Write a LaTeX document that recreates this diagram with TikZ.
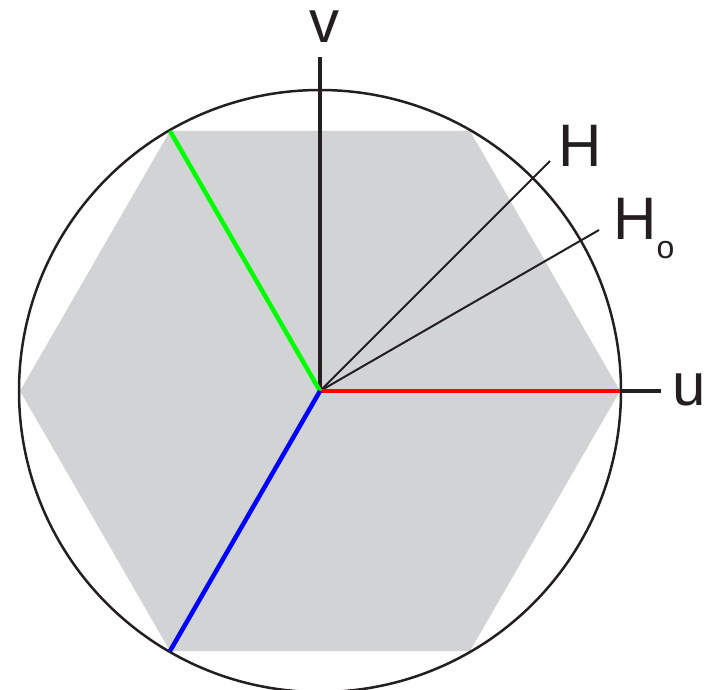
\documentclass[tikz,border=0pt]{standalone}
\usepackage{fontspec}
\setmainfont{Liberation Sans}
\definecolor{hexgray}{RGB}{209,211,212}
\definecolor{ink}{RGB}{35,31,32}
\begin{document}
\begin{tikzpicture}[x=1pt,y=-1pt,
  lab/.style={inner sep=0pt, anchor=base, font=\fontsize{60}{60}\selectfont, text=ink},
  axisline/.style={draw=ink, line width=4.5pt},
  thinline/.style={draw=ink, line width=2pt},
  vecline/.style={line width=4.5pt}]
\useasboundingbox (0,0) rectangle (720,690);
\coordinate (O) at (320,391);
\coordinate (P0) at (620,391);
\coordinate (P1) at (470,131);
\coordinate (P2) at (170,131);
\coordinate (P3) at (20,391);
\coordinate (P4) at (170,651);
\coordinate (P5) at (470,651);
\fill[hexgray] (P0) -- (P1) -- (P2) -- (P3) -- (P4) -- (P5) -- cycle;
\draw[ink, line width=2.5pt] (O) circle[radius=301pt];
\coordinate (Vt) at (320,57);
\coordinate (U0) at (621,391);
\coordinate (U1) at (661,391);
\coordinate (Hend) at (550,161);
\coordinate (Hoend) at (599,230);
\draw[thinline] (O) -- (Hend);
\draw[thinline] (O) -- (Hoend);
\draw[axisline] (O) -- (Vt);
\draw[axisline] (U0) -- (U1);
\draw[vecline, draw=red] (O) -- (P0);
\draw[vecline, draw=green] (O) -- (P2);
\draw[vecline, draw=blue] (O) -- (P4);
\node[lab] (vlab) at (324,43) {v};
\node[lab] (ulab) at (689,405) {u};
\node[lab] (hlab) at (580,166) {H};
\node[lab, anchor=base west] (holab) at (613,239) {H\raisebox{-19pt}{\fontsize{32}{32}\selectfont o}};
\end{tikzpicture}
\end{document}
